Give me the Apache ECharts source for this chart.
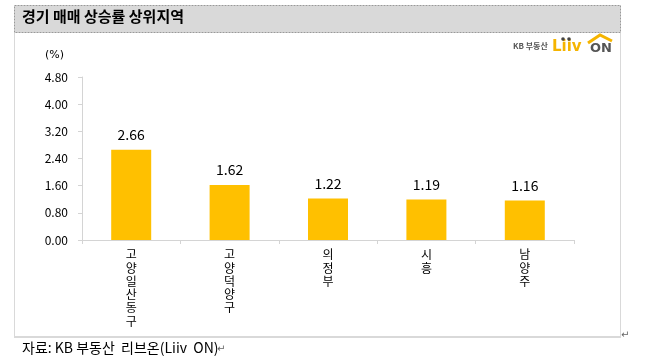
<!DOCTYPE html>
<html>
<head>
<meta charset="utf-8">
<script src="https://cdn.jsdelivr.net/npm/echarts@6/dist/echarts.min.js"></script>
<style>
html,body{margin:0;padding:0;background:#fff;}
#c{width:645px;height:364px;}
</style>
</head>
<body>
<div id="c"></div>
<script>
const categories = ['고양 일산동구', '고양 덕양구', '의정부', '시흥', '남양주'];
const values = [2.66, 1.62, 1.22, 1.19, 1.16];
const yTicks = [0, 0.8, 1.6, 2.4, 3.2, 4.0, 4.8];

const FONT = '"Noto Sans CJK KR", "DejaVu Sans", sans-serif';
const chart = echarts.init(document.getElementById('c'));
chart.setOption({
  animation: false,
  backgroundColor: '#fff',
  grid: { left: 82, right: 71, top: 77, bottom: 124 },
  xAxis: {
    type: 'category',
    data: categories,
    axisLine: { lineStyle: { color: '#d4d4d4', width: 1 } },
    axisTick: { show: true, alignWithLabel: false, length: 4, lineStyle: { color: '#d4d4d4' } },
    axisLabel: {
      interval: 0,
      margin: 8,
      color: '#000',
      fontFamily: FONT,
      fontSize: 12,
      lineHeight: 13.3,
      formatter: v => v.replace(/ /g, '').split('').join('\n')
    }
  },
  yAxis: {
    type: 'value',
    min: yTicks[0],
    max: yTicks[yTicks.length - 1],
    interval: 0.8,
    splitLine: { show: false },
    axisLine: { show: true, lineStyle: { color: '#d4d4d4' } },
    axisTick: { show: true, length: 4, lineStyle: { color: '#d4d4d4' } },
    axisLabel: {
      color: '#000',
      fontFamily: FONT,
      fontSize: 12,
      margin: 14,
      formatter: v => v.toFixed(2)
    }
  },
  series: [{
    type: 'bar',
    data: values,
    barWidth: 40,
    itemStyle: { color: '#ffc000' },
    label: {
      show: true,
      position: 'top',
      distance: 8,
      color: '#000',
      fontFamily: FONT,
      fontSize: 14,
      formatter: p => p.value.toFixed(2)
    }
  }],
  graphic: [
    { type: 'rect', shape: { x: 14.5, y: 5.5, width: 606, height: 27 }, style: { fill: '#d9d9d9', stroke: '#999', lineWidth: 1, lineDash: [2, 1] }, z: -1 },
    { type: 'text', left: 22, top: 9, style: { text: '경기 매매 상승률 상위지역', fill: '#000', font: 'bold 15px "Noto Sans CJK KR", sans-serif' } },
    { type: 'polyline', shape: { points: [[14.5, 33], [14.5, 336.5], [620.5, 336.5], [620.5, 33]] }, style: { stroke: '#d9d9d9', lineWidth: 1, fill: null }, z: -1 },
    { type: 'line', shape: { x1: 14, y1: 337, x2: 621, y2: 337 }, style: { stroke: '#d9d9d9', lineWidth: 2 }, z: -1 },
    { type: 'text', left: 45, top: 50, style: { text: '(%)', fill: '#000', font: '11px "DejaVu Sans", sans-serif' } },
    { type: 'text', left: 513, top: 42, style: { text: 'KB 부동산', fill: '#555', font: 'bold 8px "Noto Sans CJK KR", sans-serif' } },
    { type: 'text', left: 552, top: 40, style: { text: 'Liiv', fill: '#f5b400', font: 'bold 15px "DejaVu Sans", sans-serif' } },
    { type: 'circle', shape: { cx: 563, cy: 39, r: 1.8 }, style: { fill: '#444' } },
    { type: 'circle', shape: { cx: 569, cy: 39, r: 1.8 }, style: { fill: '#444' } },
    { type: 'text', left: 590, top: 42, style: { text: 'ON', fill: '#555', font: 'bold 13px "DejaVu Sans", sans-serif' } },
    { type: 'polyline', shape: { points: [[588, 43], [600, 35], [612, 41]] }, style: { stroke: '#f5b400', lineWidth: 3, fill: null } },
    { type: 'text', left: 22, top: 341, style: { text: '자료: KB 부동산  리브온(Liiv  ON)', fill: '#000', font: '14px "Noto Sans CJK KR", sans-serif' } },
    { type: 'text', left: 217, top: 344, style: { text: '↵', fill: '#666', font: '10px "DejaVu Sans", sans-serif' } },
    { type: 'text', left: 621, top: 330, style: { text: '↵', fill: '#666', font: '10px "DejaVu Sans", sans-serif' } }
  ]
});
</script>
</body>
</html>
